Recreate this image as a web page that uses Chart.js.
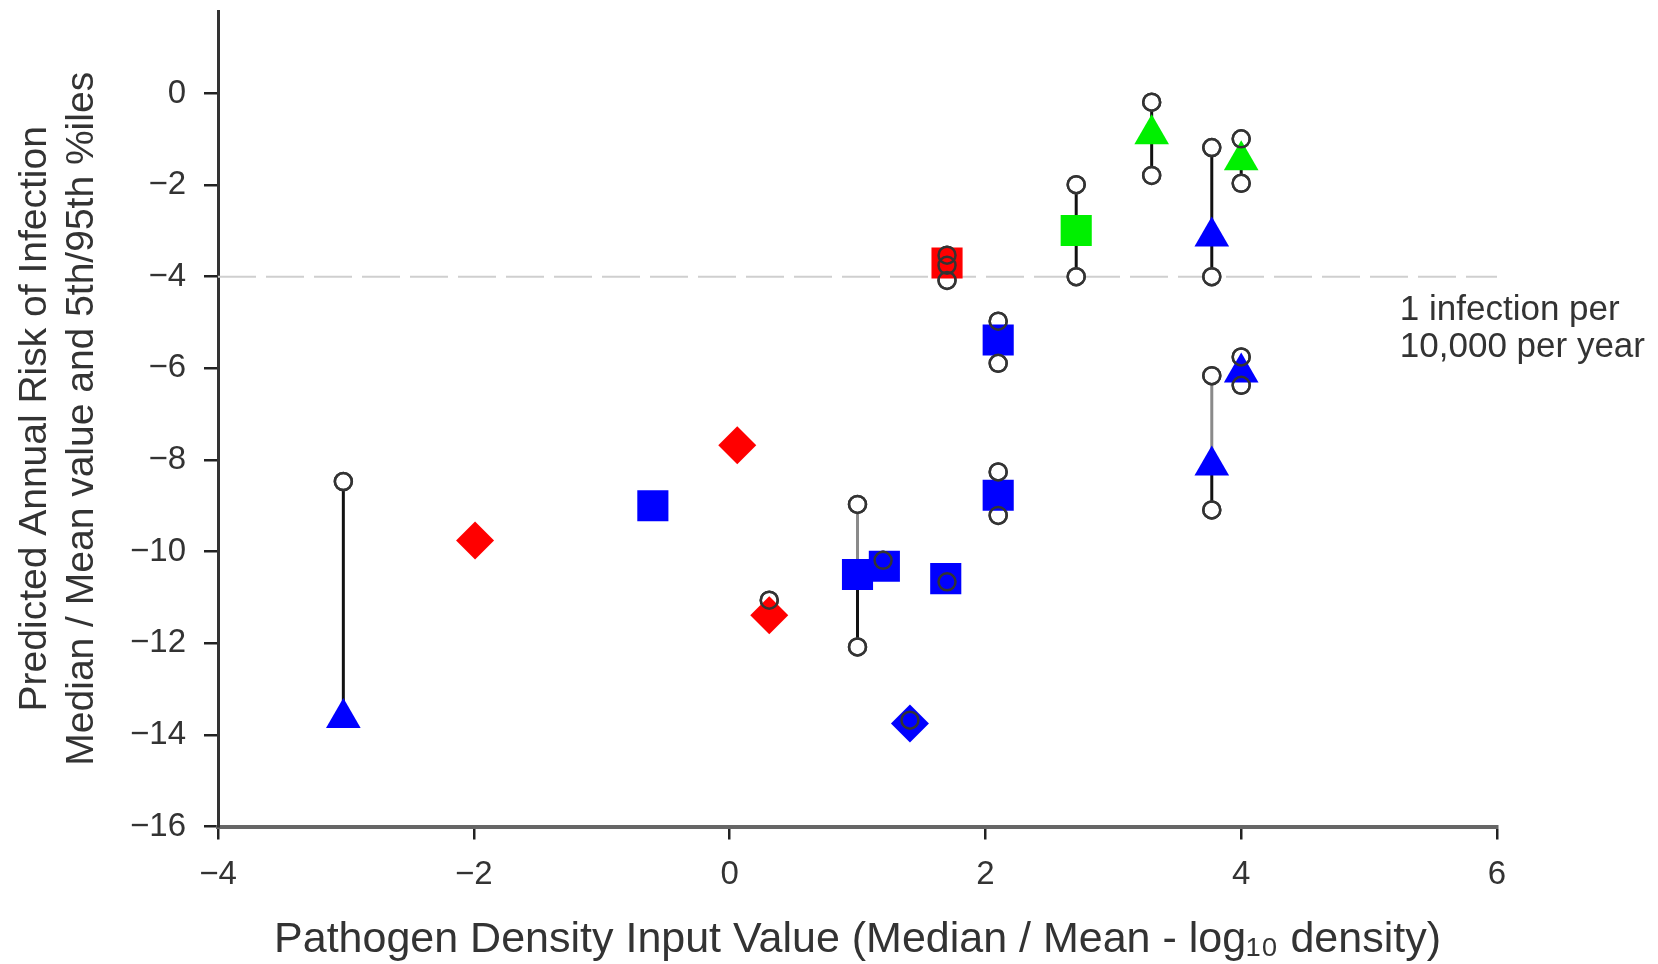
<!DOCTYPE html>
<html>
<head>
<meta charset="utf-8">
<script src="https://cdn.jsdelivr.net/npm/chart.js@4/dist/chart.umd.min.js"></script>
<style>
  html, body { margin: 0; padding: 0; background: #fff; }
</style>
</head>
<body>
<canvas id="chart" width="1658" height="964"></canvas>
<script>
// median / mean estimates, grouped by marker
const redDiamondX = [-1.99, 0.06, 0.31];
const redDiamondY = [-9.76, -7.68, -11.39];
const redSquareX = [1.70];
const redSquareY = [-3.70];
const greenSquareX = [2.71];
const greenSquareY = [-2.99];
const greenTriangleX = [3.30, 4.00];
const greenTriangleY = [-0.89, -1.46];
const blueTriangleX = [-3.02, 3.77, 3.77, 4.00];
const blueTriangleY = [-13.63, -3.12, -8.12, -6.09];
const blueSquareX = [-0.60, 1.00, 1.21, 1.69, 2.10, 2.10];
const blueSquareY = [-9.00, -10.50, -10.32, -10.59, -5.38, -8.77];
const blueDiamondX = [1.41];
const blueDiamondY = [-13.75];

// 5th / 95th percentile circles
const pctX = [-3.02, 0.31, 1.00, 1.00, 1.20, 1.41, 1.70, 1.70, 1.70, 1.70,
              2.10, 2.10, 2.10, 2.10, 2.71, 2.71, 3.30, 3.30,
              3.77, 3.77, 3.77, 3.77, 4.00, 4.00, 4.00, 4.00];
const pctY = [-8.47, -11.06, -8.97, -12.08, -10.19, -13.68, -10.66, -3.53, -3.75, -4.08,
              -4.97, -5.89, -8.26, -9.21, -1.99, -4.00, -0.19, -1.79,
              -1.18, -4.00, -6.16, -9.09, -0.99, -1.96, -5.75, -6.37];

// whiskers joining the percentiles (x, from, to)
const whiskerX    = [-3.02, 1.00, 1.70, 2.10, 2.10, 2.71, 3.30, 3.77, 3.77, 4.00, 4.00];
const whiskerFrom = [-8.47, -10.50, -3.53, -4.97, -8.26, -1.99, -0.19, -1.18, -8.12, -0.99, -5.75];
const whiskerTo   = [-13.63, -12.08, -4.08, -5.89, -9.21, -4.00, -1.79, -4.00, -9.09, -1.96, -6.37];
const faintWhiskerX    = [1.00, 3.77];
const faintWhiskerFrom = [-8.97, -6.16];
const faintWhiskerTo   = [-10.50, -8.12];

// 1 infection per 10,000 per year
const thresholdY = -4;
const noteLines = ['1 infection per', '10,000 per year'];
const noteX = 5.24;
const noteY = [-4.73, -5.54];

const xTickValues = [-4, -2, 0, 2, 4, 6];
const yTickValues = [-16, -14, -12, -10, -8, -6, -4, -2, 0];

const FONT = 'Liberation Sans, Arial, sans-serif';
const AREA_TOP = 11;
const pts = (xs, ys) => xs.map((x, i) => ({ x: x, y: ys[i] }));
const segs = (xs, a, b) => xs.flatMap((x, i) => [{ x: x, y: a[i] }, { x: x, y: b[i] }, { x: x, y: null }]);
const fmt = v => (v < 0 ? '\u2212' + Math.abs(v) : String(v));

const marker = (data, color, style, radius) => ({
    data: data,
    pointStyle: style,
    pointRadius: radius,
    pointBackgroundColor: color,
    pointBorderWidth: 0,
    order: 2,
});

const notePlugin = {
    id: 'note',
    afterDraw(chart) {
        const { ctx, scales: { x, y } } = chart;
        ctx.save();
        ctx.font = '35px ' + FONT;
        ctx.fillStyle = '#333';
        ctx.textBaseline = 'middle';
        ctx.textAlign = 'left';
        noteLines.forEach((line, i) => {
            ctx.fillText(line, x.getPixelForValue(noteX), y.getPixelForValue(noteY[i]));
        });
        ctx.restore();
    }
};

const chart = new Chart(document.getElementById('chart'), {
    type: 'scatter',
    data: {
        datasets: [
            {
                data: [{ x: -4, y: thresholdY }, { x: 6, y: thresholdY }],
                showLine: true,
                borderColor: '#cfcfcf',
                borderWidth: 2,
                borderDash: [38, 10],
                pointRadius: 0,
                order: 5,
            },
            {
                data: segs(whiskerX, whiskerFrom, whiskerTo),
                showLine: true,
                spanGaps: false,
                borderColor: '#111',
                borderWidth: 3,
                pointRadius: 0,
                order: 4,
            },
            {
                data: segs(faintWhiskerX, faintWhiskerFrom, faintWhiskerTo),
                showLine: true,
                spanGaps: false,
                borderColor: '#8a8a8a',
                borderWidth: 3,
                pointRadius: 0,
                order: 4,
            },
            {
                data: pts(pctX, pctY),
                pointRadius: 8.5,
                pointBackgroundColor: '#fff',
                pointBorderColor: '#444',
                pointBorderWidth: 2.5,
                order: 3,
            },
            marker(pts(redDiamondX, redDiamondY), '#ff0000', 'rectRot', 19),
            marker(pts(redSquareX, redSquareY), '#ff0000', 'rect', 22),
            marker(pts(greenSquareX, greenSquareY), '#00f000', 'rect', 22),
            marker(pts(greenTriangleX, greenTriangleY), '#00f000', 'triangle', 20),
            marker(pts(blueTriangleX, blueTriangleY), '#0000ff', 'triangle', 20),
            marker(pts(blueSquareX, blueSquareY), '#0000ff', 'rect', 22),
            marker(pts(blueDiamondX, blueDiamondY), '#0000ff', 'rectRot', 19),
            {
                data: pts(pctX, pctY),
                pointRadius: 8.5,
                pointBackgroundColor: 'rgba(0,0,0,0)',
                pointBorderColor: '#333',
                pointBorderWidth: 2.5,
                order: 1,
            },
        ]
    },
    options: {
        responsive: false,
        animation: false,
        events: [],
        layout: {
            autoPadding: false,
            padding: { top: AREA_TOP, right: 161, bottom: 0, left: 0 }
        },
        plugins: {
            legend: { display: false },
            tooltip: { enabled: false },
        },
        scales: {
            x: {
                type: 'linear',
                min: -4,
                max: 6,
                afterBuildTicks: s => { s.ticks = xTickValues.map(v => ({ value: v })); },
                afterFit: s => { s.height = 137.5; s.paddingLeft = 0; s.paddingRight = 0; },
                border: { color: '#666', width: 4 },
                grid: { drawOnChartArea: false, tickLength: 13, color: '#222', lineWidth: 2.5 },
                ticks: { padding: 16, color: '#333', font: { family: FONT, size: 33 }, callback: fmt },
                title: {
                    display: true,
                    text: 'Pathogen Density Input Value (Median / Mean - log\u2081\u2080 density)',
                    color: '#333',
                    font: { family: FONT, size: 43 },
                    padding: { top: 0, bottom: -2 },
                },
            },
            y: {
                type: 'linear',
                min: -16,
                max: 1.8,
                afterBuildTicks: s => { s.ticks = yTickValues.map(v => ({ value: v })); },
                afterFit: s => { s.width = 218; s.paddingTop = 0; s.paddingBottom = 0; },
                border: { color: '#333', width: 3 },
                grid: { drawOnChartArea: false, tickLength: 14, color: '#222', lineWidth: 2.5 },
                ticks: { padding: 18, color: '#333', font: { family: FONT, size: 33 }, callback: fmt },
                title: {
                    display: true,
                    text: ['Predicted Annual Risk of Infection', 'Median / Mean value and 5th/95th %iles'],
                    color: '#333',
                    font: { family: FONT, size: 39, lineHeight: 1.2 },
                    padding: { top: 12, bottom: 0 },
                },
            },
        },
    },
    plugins: [notePlugin],
});

// keep the plot area top where the reference has it
const extra = chart.chartArea.top - AREA_TOP;
if (Math.abs(extra) > 0.5) {
    chart.options.layout.padding.top = AREA_TOP - extra;
    chart.update();
}
</script>
</body>
</html>
